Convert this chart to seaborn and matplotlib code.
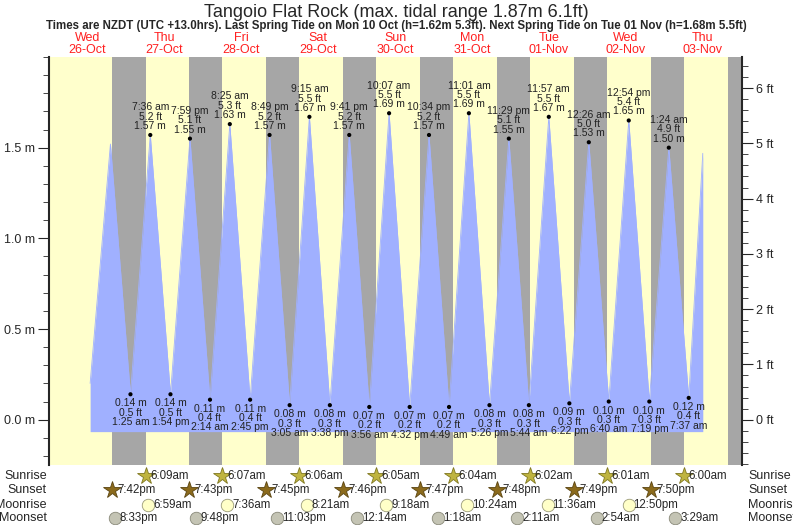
import numpy as np
import pandas as pd
import matplotlib
matplotlib.use("Agg")
import matplotlib.pyplot as plt
import seaborn as sns

# ---------------- data ----------------
tide_times = ["2022-10-26 12:50", "2022-10-26 19:10",
              "2022-10-27 01:25", "2022-10-27 07:36", "2022-10-27 13:54", "2022-10-27 19:59",
              "2022-10-28 02:14", "2022-10-28 08:25", "2022-10-28 14:45", "2022-10-28 20:49",
              "2022-10-29 03:05", "2022-10-29 09:15", "2022-10-29 15:38", "2022-10-29 21:41",
              "2022-10-30 03:56", "2022-10-30 10:07", "2022-10-30 16:32", "2022-10-30 22:34",
              "2022-10-31 04:49", "2022-10-31 11:01", "2022-10-31 17:26", "2022-10-31 23:29",
              "2022-11-01 05:44", "2022-11-01 11:57", "2022-11-01 18:22",
              "2022-11-02 00:26", "2022-11-02 06:40", "2022-11-02 12:54", "2022-11-02 19:19",
              "2022-11-03 01:24", "2022-11-03 07:37", "2022-11-03 12:10"]
tide_heights = [0.20, 1.52,
                0.14, 1.57, 0.14, 1.55,
                0.11, 1.63, 0.11, 1.57,
                0.08, 1.67, 0.08, 1.57,
                0.07, 1.69, 0.07, 1.57,
                0.07, 1.69, 0.08, 1.55,
                0.08, 1.67, 0.09,
                1.53, 0.10, 1.65, 0.10,
                1.50, 0.12, 1.52]
tide_labelled = [False, False] + [True] * 29 + [False]

sunrise = ["2022-10-27 06:09", "2022-10-28 06:07", "2022-10-29 06:06", "2022-10-30 06:05",
           "2022-10-31 06:04", "2022-11-01 06:02", "2022-11-02 06:01", "2022-11-03 06:00"]
sunset = ["2022-10-26 19:42", "2022-10-27 19:43", "2022-10-28 19:45", "2022-10-29 19:46",
          "2022-10-30 19:47", "2022-10-31 19:48", "2022-11-01 19:49", "2022-11-02 19:50",
          "2022-11-03 19:51"]
moonrise = ["2022-10-27 06:59", "2022-10-28 07:36", "2022-10-29 08:21", "2022-10-30 09:18",
            "2022-10-31 10:24", "2022-11-01 11:36", "2022-11-02 12:50"]
moonset = ["2022-10-26 20:33", "2022-10-27 21:48", "2022-10-28 23:03", "2022-10-30 00:14",
           "2022-10-31 01:18", "2022-11-01 02:11", "2022-11-02 02:54", "2022-11-03 03:29"]
day_names = ["Wed", "Thu", "Fri", "Sat", "Sun", "Mon", "Tue", "Wed", "Thu"]
day_dates = ["26-Oct", "27-Oct", "28-Oct", "29-Oct", "30-Oct", "31-Oct", "01-Nov", "02-Nov", "03-Nov"]

plt.rcParams["font.family"] = "Liberation Sans"

T0 = pd.Timestamp("2022-10-26 00:00")
def days(ts):
    return (pd.to_datetime(ts) - T0) / pd.Timedelta(days=1)

def fmt(ts, sep=""):
    t = pd.Timestamp(ts)
    return t.strftime("%-I:%M") + sep + t.strftime("%p").lower()

tx = np.asarray(days(tide_times))
ty = np.array(tide_heights)
end = 8.5
curve = pd.DataFrame({"t": np.append(tx[tx < end], end),
                      "h": np.append(ty[tx < end], np.interp(end, tx, ty))})

# ---------------- figure ----------------
sns.set_style("white")
plt.rcParams["font.family"] = "Liberation Sans"
fig = plt.figure(figsize=(7.93, 5.25), dpi=100)
ax = fig.add_axes([0.0618, 0.1143, 0.8739, 0.7771])
ax.set_xlim(0, 9.01)
ax.set_ylim(-0.25, 2.0)

YEL, GRY = "#ffffcc", "#a6a6a6"
ax.axvspan(0, 9.01, color=YEL, zorder=0, lw=0)
ss = np.asarray(days(sunset)); sr = np.asarray(days(sunrise))
for i, s in enumerate(ss):
    e = sr[i] if i < len(sr) else 9.01
    ax.axvspan(s, e, color=GRY, zorder=0.5, lw=0)

ax.fill_between(curve["t"], -0.066, curve["h"], color="#a0b0ff", lw=0, zorder=1)
sns.lineplot(data=curve, x="t", y="h", ax=ax, color="#a0b0ff", lw=0.6, zorder=1)

lab = [i for i, f in enumerate(tide_labelled) if f]
pts = pd.DataFrame({"t": tx[lab], "h": ty[lab]})
sns.scatterplot(data=pts, x="t", y="h", ax=ax, color="black", s=9, edgecolor="none", zorder=3)
for i in lab:
    h = ty[i]
    if h > 1:
        txt = f"{fmt(tide_times[i], ' ')}\n{h*3.28084:.1f} ft\n{h:.2f} m"
        ax.text(tx[i], h + 0.022, txt, ha="center", va="bottom", fontsize=7.5,
                linespacing=0.92, color="#222222", zorder=4)
    else:
        txt = f"{h:.2f} m\n{h*3.28084:.1f} ft\n{fmt(tide_times[i], ' ')}"
        ax.text(tx[i], h - 0.022, txt, ha="center", va="top", fontsize=7.5,
                linespacing=0.92, color="#222222", zorder=4)

# left axis (m)
ax.set_yticks([0, 0.5, 1.0, 1.5])
ax.set_yticklabels(["0.0 m", "0.5 m", "1.0 m", "1.5 m"], fontsize=9)
ax.set_yticks(np.arange(-0.2, 2.01, 0.1), minor=True)
ax.tick_params(axis="y", which="major", length=8, direction="out", left=True, pad=2)
ax.tick_params(axis="y", which="minor", length=4, direction="out", left=True)
ax.set_xticks([])
ax.set_xlabel(""); ax.set_ylabel("")
for s in ["top", "bottom", "right"]:
    ax.spines[s].set_visible(False)
ax.spines["left"].set_linewidth(1.5)

# right axis (ft)
ax2 = ax.twinx()
ax2.set_ylim(-0.25 * 3.28084, 2.0 * 3.28084)
ax2.set_yticks(range(0, 7))
ax2.set_yticklabels([f"{v} ft" for v in range(7)], fontsize=9)
ax2.set_yticks(np.arange(-0.8, 6.6, 0.2), minor=True)
ax2.tick_params(axis="y", which="major", length=8, direction="out", pad=2)
ax2.tick_params(axis="y", which="minor", length=4, direction="out")
for s in ["top", "bottom", "left"]:
    ax2.spines[s].set_visible(False)
ax2.spines["right"].set_linewidth(1.5)

# day labels
for d, (n, dt) in enumerate(zip(day_names, day_dates)):
    ax.text(d + 0.5, 2.005, f"{n}\n{dt}", ha="center", va="bottom", color="#ff2020",
            fontsize=9, linespacing=1.0, clip_on=False)

fig.text(0.5, 0.977, "Tangoio Flat Rock (max. tidal range 1.87m 6.1ft)", ha="center",
         va="center", fontsize=13)
fig.text(0.5, 0.951, "Times are NZDT (UTC +13.0hrs). Last Spring Tide on Mon 10 Oct (h=1.62m 5.3ft). "
         "Next Spring Tide on Tue 01 Nov (h=1.68m 5.5ft)", ha="center", va="center",
         fontsize=8.3, fontweight="bold")

# bottom rows
trans = matplotlib.transforms.blended_transform_factory(ax.transData, fig.transFigure)
rows = [("Sunrise", sunrise, "*", "#bfb440", "#807820", 13),
        ("Sunset", sunset[:-1], "*", "#8b6a1c", "#5a4410", 13),
        ("Moonrise", moonrise, "o", "#ffffc8", "#999977", 9),
        ("Moonset", moonset, "o", "#c4c4b4", "#888878", 9)]
ypix = [476, 490, 505, 518]
for (name, times, mk, fc, ec, ms), yp in zip(rows, ypix):
    yf = 1 - yp / 525
    fig.text(47 / 793, yf, name, ha="right", va="center", fontsize=9)
    fig.text(748 / 793, yf, name, ha="left", va="center", fontsize=9)
    xv = np.asarray(days(times))
    ax.plot(xv, [yf] * len(xv), ls="none", marker=mk, ms=ms, mfc=fc, mec=ec, mew=0.6,
            transform=trans, clip_on=False)
    for x, t in zip(xv, times):
        ax.text(x + 0.065, yf, fmt(t), ha="left", va="center", fontsize=8.3,
                transform=trans, clip_on=False)

fig.savefig("out.png", dpi=100)
